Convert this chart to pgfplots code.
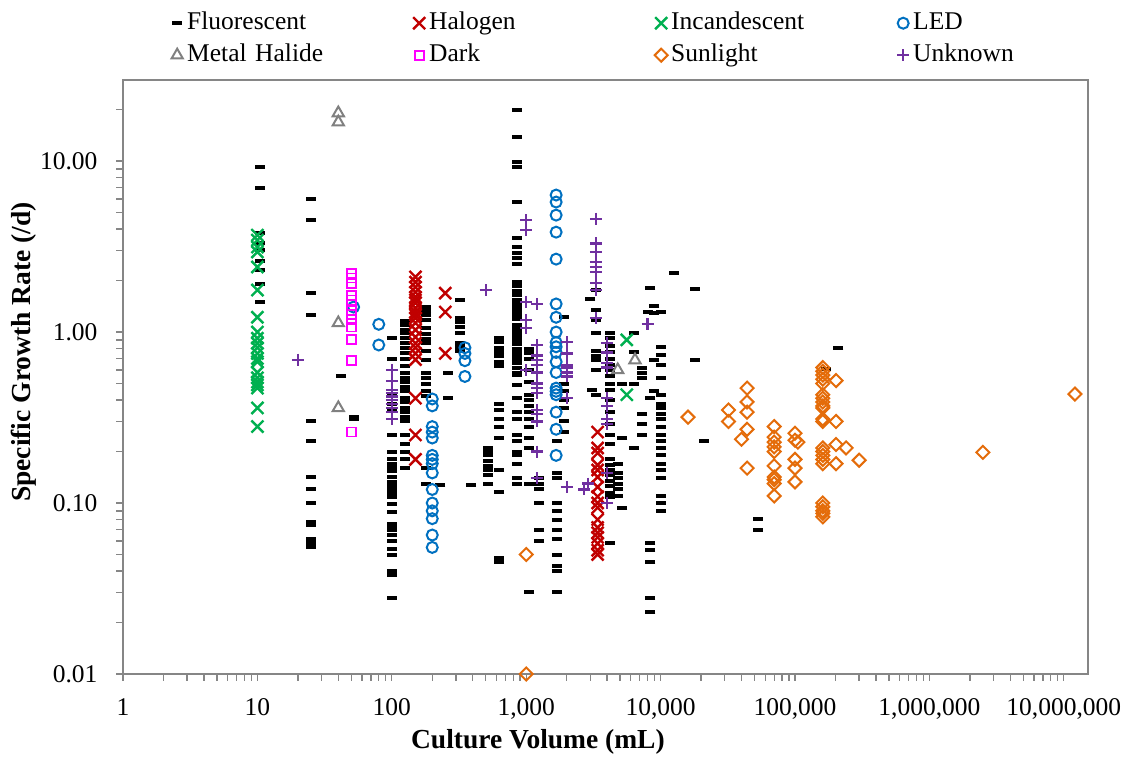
\documentclass[border=0pt]{standalone}
\usepackage{fontspec}
\setmainfont{Liberation Serif}
\usepackage{pgfplots}
\usepackage{pgfplotstable}
\pgfplotsset{compat=1.18}

\definecolor{axisgray}{HTML}{868686}
\definecolor{halogen}{HTML}{C00000}
\definecolor{incand}{HTML}{00B050}
\definecolor{led}{HTML}{0070C0}
\definecolor{metal}{HTML}{808080}
\definecolor{darkc}{HTML}{FF00FF}
\definecolor{sun}{HTML}{E46C0A}
\definecolor{unknown}{HTML}{7030A0}

% culture volume (mL) vs specific growth rate (/d)
\pgfplotstableread{
x y
10.5 9.2
10.5 7.0
10.5 3.8
10.5 3.3
10.5 3.0
10.5 2.6
10.5 2.3
10.5 1.9
10.5 1.5
25 6.0
25 4.5
25 1.7
25 1.26
25 0.30
25 0.23
25 0.142
25 0.12
25 0.10
25 0.077
25 0.074
25 0.062
25 0.058
25 0.055
42 0.55
52 0.32
52 0.31
100 0.92
100 0.70
100 0.42
100 0.38
100 0.35
100 0.25
100 0.20
100 0.18
100 0.17
100 0.16
100 0.153
100 0.142
100 0.133
100 0.127
100 0.12
100 0.114
100 0.109
100 0.099
100 0.089
100 0.075
100 0.072
100 0.07
100 0.065
100 0.06
100 0.054
100 0.05
100 0.040
100 0.038
100 0.028
125 1.16
125 1.10
125 1.03
125 0.99
125 0.92
125 0.86
125 0.81
125 0.75
125 0.70
125 0.63
125 0.58
125 0.54
125 0.51
125 0.48
125 0.45
125 0.41
125 0.39
125 0.36
125 0.34
125 0.32
125 0.30
125 0.25
125 0.22
125 0.20
125 0.18
125 0.16
180 1.40
180 1.33
180 1.26
180 1.17
180 1.05
180 0.98
180 0.91
180 0.86
180 0.78
180 0.69
180 0.58
180 0.54
180 0.50
180 0.45
180 0.42
180 0.16
180 0.13
230 0.127
260 0.58
260 0.41
320 1.54
320 1.21
320 1.14
320 1.07
320 0.99
320 0.86
320 0.82
320 0.78
390 0.127
520 0.21
520 0.20
520 0.19
520 0.175
520 0.165
520 0.155
520 0.145
520 0.13
630 0.92
630 0.87
630 0.81
630 0.76
630 0.72
630 0.67
630 0.63
630 0.38
630 0.35
630 0.31
630 0.28
630 0.24
630 0.156
630 0.116
630 0.048
630 0.045
850 19.8
850 13.8
850 9.85
850 9.2
850 5.75
850 3.55
850 3.14
850 2.9
850 2.7
850 2.5
850 1.96
850 1.85
850 1.75
850 1.65
850 1.55
850 1.47
850 1.40
850 1.33
850 1.26
850 1.2
850 1.1
850 1.05
850 1.0
850 0.95
850 0.9
850 0.85
850 0.8
850 0.75
850 0.72
850 0.69
850 0.66
850 0.62
850 0.58
850 0.56
850 0.49
850 0.41
850 0.34
850 0.31
850 0.25
850 0.23
850 0.2
850 0.19
850 0.17
850 0.14
850 0.13
1050 0.80
1050 0.75
1050 0.70
1050 0.60
1050 0.51
1050 0.43
1050 0.40
1050 0.37
1050 0.34
1050 0.31
1050 0.28
1050 0.24
1050 0.21
1050 0.13
1050 0.03
1250 0.14
1250 0.13
1250 0.12
1250 0.10
1250 0.07
1250 0.06
1700 0.23
1700 0.15
1700 0.14
1700 0.10
1700 0.09
1700 0.08
1700 0.07
1700 0.062
1700 0.05
1700 0.043
1700 0.04
1700 0.03
1900 1.22
1900 0.50
1900 0.45
1900 0.40
1900 0.36
1900 0.30
1900 0.26
3000 1.56
3100 0.46
3300 1.76
3300 1.35
3300 1.17
3300 0.99
3300 0.78
3300 0.72
3300 0.69
3300 0.60
3300 0.43
4200 0.99
4200 0.92
4200 0.83
4200 0.76
4200 0.70
4200 0.64
4200 0.60
4200 0.55
4200 0.50
4200 0.46
4200 0.40
4200 0.34
4200 0.29
4200 0.25
4200 0.22
4200 0.18
4200 0.167
4200 0.155
4200 0.145
4200 0.135
4200 0.125
4200 0.115
4200 0.109
4200 0.058
4800 0.17
4800 0.15
4800 0.14
4800 0.13
4800 0.12
4800 0.11
5200 0.50
5200 0.24
5200 0.093
6300 0.99
6300 0.76
6300 0.50
6300 0.21
7300 0.62
7300 0.58
7300 0.54
7300 0.33
7300 0.29
7300 0.25
8000 1.31
8400 1.81
8400 0.41
8400 0.058
8400 0.053
8400 0.045
8400 0.028
8400 0.023
9000 1.42
9000 1.29
9000 0.69
9000 0.45
10000 1.31
10000 0.82
10000 0.73
10000 0.64
10000 0.54
10000 0.43
10000 0.38
10000 0.36
10000 0.33
10000 0.31
10000 0.28
10000 0.25
10000 0.23
10000 0.21
10000 0.19
10000 0.17
10000 0.155
10000 0.14
10000 0.11
10000 0.10
10000 0.09
12500 2.21
18000 1.78
18000 0.69
21000 0.23
53000 0.081
53000 0.07
170000 0.61
210000 0.81
}\fluorescent

\pgfplotstableread{
x y
150 2.10
150 1.96
150 1.83
150 1.71
150 1.60
150 1.54
150 1.48
150 1.38
150 1.31
150 1.26
150 1.21
150 1.13
150 1.03
150 0.935
150 0.86
150 0.81
150 0.75
150 0.69
150 0.41
150 0.25
150 0.18
250 1.69
250 1.31
250 0.75
3400 0.26
3400 0.21
3400 0.196
3400 0.167
3400 0.156
3400 0.142
3400 0.124
3400 0.109
3400 0.10
3400 0.094
3400 0.080
3400 0.072
3400 0.067
3400 0.063
3400 0.058
3400 0.053
3400 0.050
}\halogen

\pgfplotstableread{
x y
10 3.69
10 3.45
10 3.14
10 2.94
10 2.40
10 1.76
10 1.22
10 1.0
10 0.92
10 0.86
10 0.81
10 0.75
10 0.70
10 0.67
10 0.58
10 0.54
10 0.51
10 0.49
10 0.47
10 0.36
10 0.28
5600 0.90
5600 0.43
}\incandescent

\pgfplotstableread{
x y
52 1.40
80 1.11
80 0.84
200 0.406
200 0.37
200 0.28
200 0.26
200 0.24
200 0.19
200 0.18
200 0.17
200 0.15
200 0.12
200 0.10
200 0.09
200 0.081
200 0.065
200 0.055
350 0.81
350 0.75
350 0.68
350 0.55
1670 6.33
1670 5.76
1670 4.83
1670 3.84
1670 2.67
1670 1.46
1670 1.22
1670 1.0
1670 0.87
1670 0.82
1670 0.76
1670 0.67
1670 0.58
1670 0.47
1670 0.45
1670 0.43
1670 0.34
1670 0.27
1670 0.19
}\led

\pgfplotstableread{
x y
40 19.1
40 16.9
40 1.13
40 0.36
4800 0.60
6450 0.686
}\metalhalide

\pgfplotstableread{
x y
50 2.21
50 2.07
50 1.93
50 1.64
50 1.54
50 1.44
50 1.34
50 1.26
50 1.18
50 1.07
50 0.90
50 0.68
50 0.26
}\darkgrowth

\pgfplotstableread{
x y
1000 0.05
1000 0.01
16000 0.318
32000 0.35
32000 0.30
40000 0.236
44000 0.47
44000 0.39
44000 0.34
44000 0.27
44000 0.16
70000 0.28
70000 0.243
70000 0.227
70000 0.213
70000 0.20
70000 0.165
70000 0.142
70000 0.137
70000 0.13
70000 0.11
100000 0.256
100000 0.233
100000 0.18
100000 0.16
100000 0.133
105000 0.227
161000 0.62
161000 0.59
161000 0.56
161000 0.53
161000 0.50
161000 0.43
161000 0.41
161000 0.39
161000 0.37
161000 0.36
161000 0.31
161000 0.30
161000 0.21
161000 0.20
161000 0.19
161000 0.18
161000 0.17
161000 0.10
161000 0.095
161000 0.09
161000 0.087
161000 0.083
202000 0.52
202000 0.30
202000 0.22
202000 0.17
240000 0.21
300000 0.178
2500000 0.198
12100000 0.434
}\sunlight

\pgfplotstableread{
x y
20 0.69
100 0.60
100 0.52
100 0.46
100 0.44
100 0.42
100 0.40
100 0.38
100 0.36
100 0.34
100 0.31
500 1.76
1000 4.52
1000 3.95
1000 1.50
1000 1.18
1000 1.06
1000 0.60
1200 1.46
1200 0.84
1200 0.73
1200 0.69
1200 0.64
1200 0.58
1200 0.50
1200 0.47
1200 0.44
1200 0.35
1200 0.33
1200 0.30
1200 0.20
1200 0.14
2000 0.87
2000 0.75
2000 0.64
2000 0.62
2000 0.58
2000 0.55
2000 0.41
2000 0.124
2700 0.12
2900 0.13
3300 4.6
3300 3.3
3300 2.95
3300 2.56
3300 2.4
3300 2.25
3300 1.93
3300 1.76
3300 1.21
4000 0.86
4000 0.76
4000 0.66
4000 0.62
4000 0.41
4000 0.37
4000 0.31
4000 0.29
4000 0.15
4000 0.10
8000 1.11
}\unknownlight

\begin{document}
\begin{tikzpicture}
\useasboundingbox (0pt,0pt) rectangle (1129pt,756pt);
\begin{axis}[
  at={(123pt,82pt)}, anchor=south west,
  scale only axis, width=965pt, height=594pt,
  xmode=log, ymode=log,
  xmin=1, xmax=1.514e7, ymin=0.01, ymax=29.8,
  axis line style={axisgray, line width=1.6pt},
  every tick/.style={axisgray, line width=1.3pt},
  tick align=outside,
  major tick length=7pt, minor tick length=7pt,
  xtick pos=bottom, ytick pos=left,
  xtick={1,10,100,1000,10000,100000,1000000,10000000},
  xticklabels={1,10,100,{1,000},{10,000},{100,000},{1,000,000},{10,000,000}},
  minor xtick={2,3,4,5,6,7,8,9,20,30,40,50,60,70,80,90,200,300,400,500,600,700,800,900,
    2000,3000,4000,5000,6000,7000,8000,9000,2e4,3e4,4e4,5e4,6e4,7e4,8e4,9e4,
    2e5,3e5,4e5,5e5,6e5,7e5,8e5,9e5,2e6,3e6,4e6,5e6,6e6,7e6,8e6,9e6},
  ytick={0.01,0.1,1,10},
  yticklabels={0.01,0.10,1.00,10.00},
  minor ytick={0.02,0.03,0.04,0.05,0.06,0.07,0.08,0.09,0.2,0.3,0.4,0.5,0.6,0.7,0.8,0.9,
    2,3,4,5,6,7,8,9,20},
  tick label style={font=\fontsize{25.5}{30}\selectfont, text=black},
  xticklabel style={yshift=-14pt},
  yticklabel style={xshift=-15pt},
  xlabel={Culture Volume (mL)},
  ylabel={Specific Growth Rate (/d)},
  label style={font=\fontsize{27.5}{32}\selectfont\bfseries, text=black},
  xlabel style={at={(axis description cs:0.430,-0.1145)}, anchor=center},
  ylabel style={at={(axis description cs:-0.1026,0.542)}, anchor=center},
  clip=false,
  legend columns=4,
  legend style={at={(axis description cs:0.0487,1.1212)}, anchor=north west,
    draw=none, fill=none, inner sep=0pt, column sep=0pt, row sep=2pt,
    font=\fontsize{25.5}{30}\selectfont,
    nodes={text width=222pt, inner xsep=3pt, inner ysep=3pt,
      text height=18pt, text depth=6pt, align=left}},
  legend image code/.code={\path[draw=none, fill=none] (0pt,-5pt) rectangle (14pt,5pt);
    \draw[#1] plot coordinates {(7pt,0pt)};},
]
\addplot[only marks, mark=-, mark size=5pt, line width=4pt, color=black]
  table {\fluorescent};
\addlegendentry{Fluorescent}
\addplot[only marks, mark=x, mark size=8.5pt, line width=2.4pt, color=halogen]
  table {\halogen};
\addlegendentry{Halogen}
\addplot[only marks, mark=x, mark size=8.5pt, line width=2.4pt, color=incand]
  table {\incandescent};
\addlegendentry{Incandescent}
\addplot[only marks, mark=o, mark size=5.5pt, line width=2pt, color=led]
  table {\led};
\addlegendentry{LED}
\addplot[only marks, mark=triangle, mark size=6.5pt, line width=2pt, color=metal]
  table {\metalhalide};
\addlegendentry{Metal Halide}
\addplot[only marks, mark=square, mark size=4.5pt, line width=1.8pt, color=darkc]
  table {\darkgrowth};
\addlegendentry{Dark}
\addplot[only marks, mark=square, mark size=4.6pt, mark options={rotate=45},
  line width=2pt, color=sun]
  table {\sunlight};
\addlegendentry{Sunlight}
\addplot[only marks, mark=+, mark size=6pt, line width=2.2pt, color=unknown]
  table {\unknownlight};
\addlegendentry{Unknown}
\end{axis}
\end{tikzpicture}
\end{document}
